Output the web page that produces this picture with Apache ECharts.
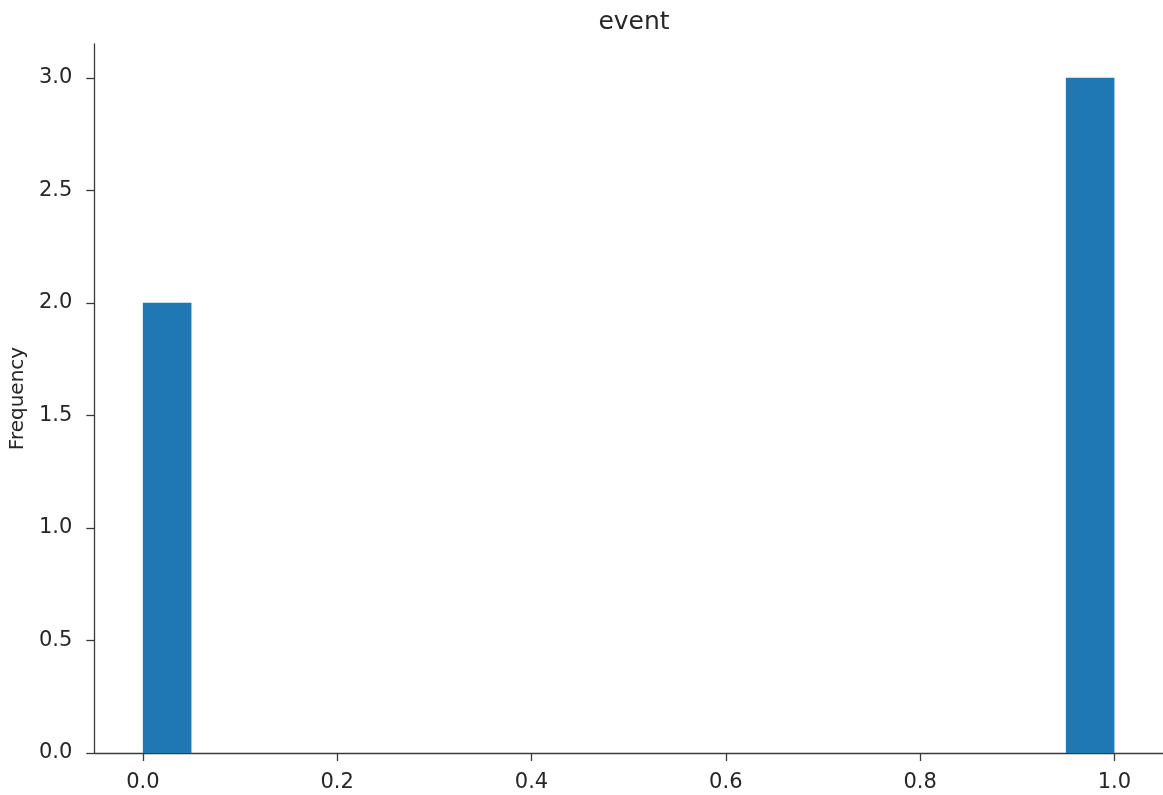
<!DOCTYPE html>
<html>
<head>
<meta charset="utf-8">
<script src="https://cdn.jsdelivr.net/npm/echarts@6/dist/echarts.min.js"></script>
<style>
html,body{margin:0;padding:0;background:#fff;}
#chart{width:1163px;height:795px;}
</style>
</head>
<body>
<div id="chart"></div>
<script>
const title = 'event';
const yAxisName = 'Frequency';
const binEdges = [0.00,0.05,0.10,0.15,0.20,0.25,0.30,0.35,0.40,0.45,0.50,0.55,0.60,0.65,0.70,0.75,0.80,0.85,0.90,0.95,1.00];
const counts = [2,0,0,0,0,0,0,0,0,0,0,0,0,0,0,0,0,0,0,3];
const xTicks = [0.0,0.2,0.4,0.6,0.8,1.0];
const yTicks = [0.0,0.5,1.0,1.5,2.0,2.5,3.0];

const data = counts.map((c,i)=>[binEdges[i], binEdges[i+1], c]);

const font = 'DejaVu Sans';
const axisColor = '#3a3a3a';
const textColor = '#262626';

const chart = echarts.init(document.getElementById('chart'));
chart.setOption({
  animation:false,
  title:{text:title,left:629,textAlign:'center',top:5,
    textStyle:{fontFamily:font,fontSize:25,fontWeight:'normal',color:textColor}},
  grid:{left:94,top:44,width:1073,height:709,containLabel:false},
  xAxis:{type:'value',min:-0.05,max:1.05,
    axisLine:{show:true,onZero:false,lineStyle:{color:axisColor,width:1.3}},
    axisTick:{show:true,length:8,lineStyle:{color:axisColor,width:1.3},customValues:xTicks},
    axisLabel:{customValues:xTicks,margin:19,fontFamily:font,fontSize:21,color:textColor,
      formatter:v=>v.toFixed(1)},
    splitLine:{show:false}},
  yAxis:{type:'value',min:0,max:3.15,
    name:yAxisName,nameLocation:'middle',nameGap:64,
    nameTextStyle:{fontFamily:font,fontSize:20,color:textColor},
    axisLine:{show:true,onZero:false,lineStyle:{color:axisColor,width:1.3}},
    axisTick:{show:true,length:8,lineStyle:{color:axisColor,width:1.3},customValues:yTicks},
    axisLabel:{customValues:yTicks,margin:22,fontFamily:font,fontSize:21,color:textColor,
      formatter:v=>v.toFixed(1)},
    splitLine:{show:false}},
  series:[{
    type:'custom',
    data:data,
    encode:{x:[0,1],y:2},
    renderItem:function(params,api){
      const h = api.value(2);
      if(!h) return null;
      const p0 = api.coord([api.value(0),0]);
      const p1 = api.coord([api.value(1),h]);
      return {type:'rect',shape:{x:p0[0],y:p1[1],width:p1[0]-p0[0],height:p0[1]-p1[1]},
        style:{fill:'#1f77b4'}};
    }
  }]
});
</script>
</body>
</html>
